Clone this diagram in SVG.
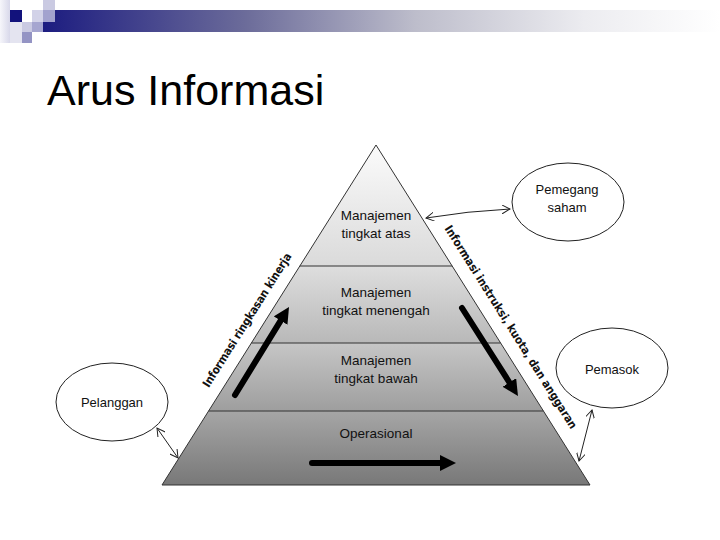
<svg xmlns="http://www.w3.org/2000/svg" width="720" height="540" viewBox="0 0 720 540">
<defs>
<style>
.lvl{font-family:"Liberation Sans",Arial,sans-serif;font-size:13.5px;fill:#111;text-anchor:middle}
.ent{font-family:"Liberation Sans",Arial,sans-serif;font-size:13px;fill:#111;text-anchor:middle}
.side{font-family:"DejaVu Sans Condensed","DejaVu Sans",sans-serif;font-weight:bold;font-size:11.5px;fill:#111;text-anchor:middle;dominant-baseline:central}
.ell{fill:#fff;stroke:#222;stroke-width:1}
.thin{fill:none;stroke:#222;stroke-width:1;marker-start:url(#open);marker-end:url(#open)}
.thick{fill:none;stroke:#000;stroke-width:6;stroke-linecap:round;marker-end:url(#head)}
.band{stroke:none}
.div{stroke:#333;stroke-width:1}
</style>
<linearGradient id="bar" x1="0" y1="0" x2="1" y2="0">
<stop offset="0" stop-color="#1c1c80"/>
<stop offset="0.3" stop-color="#6c6c9a"/>
<stop offset="0.55" stop-color="#bdbdcb"/>
<stop offset="0.8" stop-color="#ececf0"/>
<stop offset="1" stop-color="#ffffff"/>
</linearGradient>
<linearGradient id="strip" x1="0" y1="0" x2="1" y2="0">
<stop offset="0" stop-color="#f6f6fb"/>
<stop offset="1" stop-color="#d8d8ea"/>
</linearGradient>
<linearGradient id="g1" x1="0" y1="145" x2="0" y2="266" gradientUnits="userSpaceOnUse">
<stop offset="0" stop-color="#fbfbfb"/><stop offset="1" stop-color="#dadada"/>
</linearGradient>
<linearGradient id="g2" x1="0" y1="266" x2="0" y2="343" gradientUnits="userSpaceOnUse">
<stop offset="0" stop-color="#dedede"/><stop offset="1" stop-color="#b8b8b8"/>
</linearGradient>
<linearGradient id="g3" x1="0" y1="343" x2="0" y2="411" gradientUnits="userSpaceOnUse">
<stop offset="0" stop-color="#c6c6c6"/><stop offset="1" stop-color="#9e9e9e"/>
</linearGradient>
<linearGradient id="g4" x1="0" y1="411" x2="0" y2="485" gradientUnits="userSpaceOnUse">
<stop offset="0" stop-color="#a6a6a6"/><stop offset="1" stop-color="#787878"/>
</linearGradient>
<marker id="open" viewBox="0 0 10 10" refX="9" refY="5" markerWidth="9" markerHeight="9" markerUnits="userSpaceOnUse" orient="auto-start-reverse">
<path d="M0,0 L9,5 L0,10" fill="none" stroke="#222" stroke-width="1.1"/>
</marker>
<marker id="head" viewBox="0 0 16 16" refX="3" refY="8" markerWidth="16" markerHeight="16" markerUnits="userSpaceOnUse" orient="auto">
<path d="M0,0 L16,8 L0,16 z" fill="#000"/>
</marker>
</defs>

<rect width="720" height="540" fill="#fff"/>

<g id="header">
<rect x="0" y="0" width="10" height="43" fill="url(#strip)"/>
<rect x="10" y="22" width="12" height="21" fill="#e4e4f0"/>
<rect x="43" y="10" width="677" height="22" fill="url(#bar)"/>
<rect x="10" y="10" width="12" height="12" fill="#12127c"/>
<rect x="32" y="10" width="11" height="12" fill="#d2d2e8"/>
<rect x="43" y="0" width="12" height="10" fill="#cacae2"/>
<rect x="43" y="10" width="12" height="12" fill="#a2a2ce"/>
<rect x="22" y="22" width="10" height="10" fill="#cacae2"/>
<rect x="32" y="22" width="11" height="10" fill="#a6a6d0"/>
<rect x="22" y="32" width="10" height="11" fill="#9494c4"/>
</g>

<text id="title" x="47" y="105" font-family="Liberation Sans,Arial,sans-serif" font-size="43" fill="#000">Arus Informasi</text>

<g id="pyramid">
<polygon class="band" points="376,145 452.2,266 299.8,266" fill="url(#g1)"/>
<polygon class="band" points="299.8,266 452.2,266 500.6,343 251.4,343" fill="url(#g2)"/>
<polygon class="band" points="251.4,343 500.6,343 543.4,411 208.6,411" fill="url(#g3)"/>
<polygon class="band" points="208.6,411 543.4,411 590,485 162,485" fill="url(#g4)"/>
<line class="div" x1="299.8" y1="266" x2="452.2" y2="266"/>
<line class="div" x1="251.4" y1="343" x2="500.6" y2="343"/>
<line class="div" x1="208.6" y1="411" x2="543.4" y2="411"/>
<polygon points="376,145 590,485 162,485" fill="none" stroke="#333" stroke-width="1"/>
</g>

<g id="level-atas">
<text class="lvl" x="376" y="219.5">Manajemen</text>
<text class="lvl" x="376" y="237.5">tingkat atas</text>
</g>
<g id="level-menengah">
<text class="lvl" x="376" y="296.5">Manajemen</text>
<text class="lvl" x="376" y="315">tingkat menengah</text>
</g>
<g id="level-bawah">
<text class="lvl" x="376" y="365">Manajemen</text>
<text class="lvl" x="376" y="383">tingkat bawah</text>
</g>
<g id="level-operasional">
<text class="lvl" x="376" y="438">Operasional</text>
</g>

<g id="pemegang-saham">
<ellipse class="ell" cx="568" cy="202" rx="56" ry="39"/>
<text class="ent" x="567" y="194">Pemegang</text>
<text class="ent" x="567" y="212">saham</text>
</g>
<g id="pemasok">
<ellipse class="ell" cx="612" cy="368" rx="56" ry="40"/>
<text class="ent" x="612" y="374">Pemasok</text>
</g>
<g id="pelanggan">
<ellipse class="ell" cx="112" cy="402" rx="56" ry="39"/>
<text class="ent" x="112" y="406.5">Pelanggan</text>
</g>

<g id="side-labels">
<text class="side" transform="translate(247,320) rotate(-57.8)" textLength="156" lengthAdjust="spacing">Informasi ringkasan kinerja</text>
<text class="side" transform="translate(511,327) rotate(57.8)" textLength="238" lengthAdjust="spacing">Informasi instruksi, kuota, dan anggaran</text>
</g>

<g id="connectors">
<path class="thin" d="M426,218 Q468,211 510,209"/>
<line class="thin" x1="592" y1="410" x2="579" y2="461"/>
<line class="thin" x1="157" y1="428" x2="178" y2="458"/>
<line class="thick" x1="235" y1="395" x2="282.2" y2="318.1"/>
<line class="thick" x1="462" y1="308" x2="511" y2="385"/>
<line class="thick" x1="312" y1="463" x2="443" y2="463"/>
</g>
</svg>
